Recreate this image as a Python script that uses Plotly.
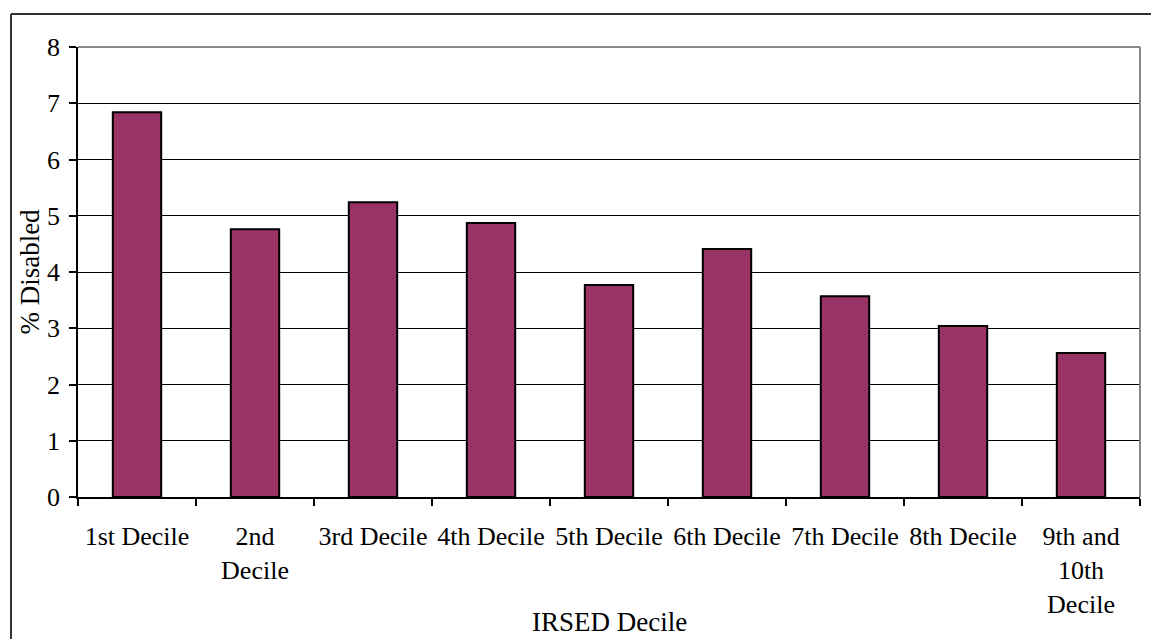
import plotly.graph_objects as go

# Share of residents with a disability, by IRSED decile
categories = ["1st Decile", "2nd<br>Decile", "3rd Decile", "4th Decile", "5th Decile",
              "6th Decile", "7th Decile", "8th Decile", "9th and<br>10th<br>Decile"]
pct_disabled = [6.84, 4.76, 5.24, 4.87, 3.77, 4.41, 3.57, 3.04, 2.56]
y_ticks = [0, 1, 2, 3, 4, 5, 6, 7, 8]

W, H = 1151, 639
L, R, T, B = 78, 11, 47, 142
pw, ph = W - L - R, H - T - B

FONT = "Liberation Serif, Times New Roman, serif"

fig = go.Figure(go.Bar(
    x=categories,
    y=pct_disabled,
    marker=dict(color="#993366", line=dict(color="black", width=2)),
    width=0.41,
))

# outer frame (left and top edges of the figure box)
fx = (11 - L) / pw
fy = 1 + (T - 14) / ph
frame = [
    dict(type="line", xref="paper", yref="paper", x0=fx, x1=fx, y0=fy, y1=-0.5,
         line=dict(color="#333333", width=2)),
    dict(type="line", xref="paper", yref="paper", x0=fx, x1=1.2, y0=fy, y1=fy,
         line=dict(color="#333333", width=2)),
    # plot-area border: grey top and right edges
    dict(type="line", xref="paper", yref="paper", x0=0, x1=1, y0=1, y1=1,
         line=dict(color="#888888", width=2), layer="above"),
    dict(type="line", xref="paper", yref="paper", x0=1, x1=1, y0=0, y1=1,
         line=dict(color="#888888", width=2), layer="above"),
]

fig.update_layout(
    width=W, height=H,
    margin=dict(l=L, r=R, t=T, b=B, pad=0),
    paper_bgcolor="white", plot_bgcolor="white",
    font=dict(family=FONT, size=26, color="black"),
    showlegend=False,
    shapes=frame,
    annotations=[dict(
        text="IRSED Decile", xref="paper", yref="paper",
        x=0.5, y=(0 - 125) / ph, xanchor="center", yanchor="middle",
        showarrow=False, font=dict(family=FONT, size=27),
    )],
    xaxis=dict(
        showline=True, linecolor="black", linewidth=1.5,
        ticks="outside", ticklen=7, tickcolor="black", tickwidth=1.5,
        tickson="boundaries", tickangle=0, automargin=False,
        tickfont=dict(family=FONT, size=26),
        ticklabelstandoff=15,
        showgrid=False,
    ),
    yaxis=dict(
        range=[0, 8], tickvals=y_ticks, automargin=False,
        showline=True, linecolor="black", linewidth=1.5,
        ticks="outside", ticklen=7, tickcolor="black", tickwidth=1.5,
        showgrid=True, gridcolor="black", gridwidth=1,
        tickfont=dict(family=FONT, size=26),
        ticklabelstandoff=4,
        title=dict(text="% Disabled", font=dict(family=FONT, size=27), standoff=0),
        zeroline=False,
    ),
    bargap=0.59,
)

fig.write_html("out.html")
